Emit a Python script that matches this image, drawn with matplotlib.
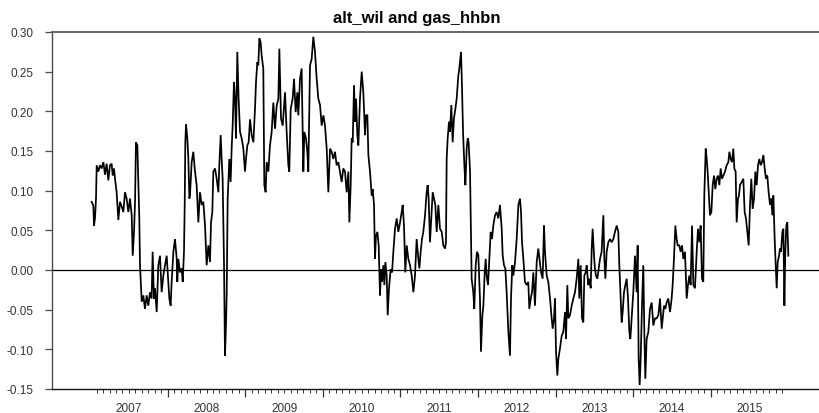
import matplotlib
matplotlib.use("Agg")
import matplotlib.pyplot as plt
import numpy as np
from matplotlib.ticker import FixedLocator, FormatStrFormatter, NullFormatter

plt.rcParams['font.family'] = ['Liberation Sans', 'DejaVu Sans']
plt.rcParams['axes.unicode_minus'] = False

title = "alt_wil and gas_hhbn"
years = [2007, 2008, 2009, 2010, 2011, 2012, 2013, 2014, 2015]
y_ticks = [-0.15, -0.10, -0.05, 0.00, 0.05, 0.10, 0.15, 0.20, 0.25, 0.30]

# observation time in decimal years
obs_time = [
    2007.020, 2007.042, 2007.050, 2007.063, 2007.076, 2007.085, 2007.106, 2007.128, 2007.149, 2007.171,
    2007.192, 2007.213, 2007.235, 2007.256, 2007.278, 2007.291, 2007.308, 2007.321, 2007.342, 2007.364,
    2007.385, 2007.407, 2007.428, 2007.450, 2007.471, 2007.493, 2007.514, 2007.536, 2007.549, 2007.566,
    2007.579, 2007.591, 2007.609, 2007.622, 2007.634, 2007.643, 2007.665, 2007.686, 2007.707, 2007.729,
    2007.750, 2007.772, 2007.793, 2007.806, 2007.823, 2007.836, 2007.858, 2007.879, 2007.901, 2007.922,
    2007.944, 2007.965, 2007.987, 2008.000, 2008.021, 2008.038, 2008.051, 2008.073, 2008.094, 2008.116,
    2008.124, 2008.137, 2008.159, 2008.180, 2008.193, 2008.210, 2008.219, 2008.227, 2008.236, 2008.253,
    2008.266, 2008.279, 2008.287, 2008.309, 2008.330, 2008.352, 2008.373, 2008.395, 2008.416, 2008.438,
    2008.459, 2008.481, 2008.502, 2008.524, 2008.545, 2008.558, 2008.575, 2008.588, 2008.610, 2008.631,
    2008.653, 2008.665, 2008.683, 2008.695, 2008.708, 2008.726, 2008.738, 2008.751, 2008.760, 2008.773,
    2008.794, 2008.811, 2008.824, 2008.837, 2008.854, 2008.867, 2008.880, 2008.897, 2008.914, 2008.932,
    2008.953, 2008.975, 2008.996, 2009.009, 2009.026, 2009.043, 2009.061, 2009.082, 2009.104, 2009.125,
    2009.138, 2009.155, 2009.168, 2009.181, 2009.198, 2009.211, 2009.232, 2009.245, 2009.262, 2009.275,
    2009.297, 2009.318, 2009.340, 2009.361, 2009.383, 2009.404, 2009.426, 2009.439,
    2009.460, 2009.482, 2009.512, 2009.533, 2009.555, 2009.567, 2009.585, 2009.610, 2009.628, 2009.649,
    2009.671, 2009.683,
    2009.705, 2009.726, 2009.748, 2009.761, 2009.782, 2009.799, 2009.812, 2009.834, 2009.855, 2009.877,
    2009.898, 2009.920, 2009.941, 2009.963, 2009.984, 2010.006, 2010.027, 2010.049, 2010.070, 2010.092,
    2010.113, 2010.134, 2010.156, 2010.177, 2010.199, 2010.220, 2010.242, 2010.263, 2010.285, 2010.306,
    2010.328, 2010.341, 2010.358, 2010.371, 2010.384, 2010.401, 2010.414, 2010.427, 2010.444, 2010.457,
    2010.478, 2010.500, 2010.521, 2010.543, 2010.555, 2010.573, 2010.586, 2010.607, 2010.629, 2010.641,
    2010.659, 2010.671, 2010.684, 2010.702, 2010.719, 2010.736, 2010.749, 2010.762, 2010.779, 2010.792,
    2010.805, 2010.822, 2010.835, 2010.852, 2010.873, 2010.891, 2010.908, 2010.929, 2010.951, 2010.972,
    2010.994, 2011.015, 2011.028, 2011.045, 2011.062, 2011.080, 2011.101, 2011.123, 2011.144, 2011.166,
    2011.187, 2011.208, 2011.230, 2011.243, 2011.260, 2011.277, 2011.294, 2011.316, 2011.337, 2011.350,
    2011.363, 2011.380, 2011.397, 2011.415, 2011.432, 2011.449, 2011.466, 2011.488, 2011.509, 2011.531,
    2011.552, 2011.574, 2011.586, 2011.595, 2011.608, 2011.625, 2011.638, 2011.655, 2011.672, 2011.689,
    2011.707, 2011.724, 2011.745, 2011.758, 2011.780, 2011.793, 2011.806, 2011.823, 2011.836, 2011.853,
    2011.866, 2011.878, 2011.896, 2011.904, 2011.917, 2011.938, 2011.951, 2011.969, 2011.986, 2012.003,
    2012.024, 2012.037, 2012.055, 2012.068, 2012.085, 2012.098, 2012.110, 2012.128, 2012.145, 2012.162,
    2012.179, 2012.196, 2012.218, 2012.239, 2012.261, 2012.282, 2012.304, 2012.317, 2012.334, 2012.351,
    2012.368, 2012.390, 2012.411, 2012.424, 2012.441, 2012.454, 2012.476, 2012.497, 2012.519, 2012.540,
    2012.553, 2012.566, 2012.583, 2012.604, 2012.626, 2012.647, 2012.660, 2012.678, 2012.695, 2012.712,
    2012.733, 2012.755, 2012.776,
    2012.811, 2012.832, 2012.849, 2012.862, 2012.884, 2012.905, 2012.927, 2012.948, 2012.961, 2012.978,
    2012.991, 2013.004, 2013.021, 2013.034, 2013.055, 2013.077, 2013.098, 2013.120, 2013.133, 2013.150,
    2013.163, 2013.184, 2013.206, 2013.227, 2013.249, 2013.270, 2013.292, 2013.304, 2013.322, 2013.339,
    2013.356, 2013.369, 2013.386, 2013.399, 2013.420, 2013.433, 2013.451, 2013.464, 2013.476, 2013.494,
    2013.505, 2013.519, 2013.537, 2013.554, 2013.571, 2013.592, 2013.614, 2013.627, 2013.640, 2013.657,
    2013.678, 2013.700, 2013.721, 2013.743, 2013.764, 2013.786, 2013.807, 2013.820, 2013.837, 2013.850,
    2013.863, 2013.880, 2013.897, 2013.915, 2013.932, 2013.949, 2013.962, 2013.979, 2014.000, 2014.022,
    2014.043, 2014.056, 2014.069, 2014.082, 2014.095, 2014.112, 2014.129, 2014.142, 2014.155, 2014.172,
    2014.194, 2014.215, 2014.237, 2014.258, 2014.280, 2014.301, 2014.323, 2014.344, 2014.366, 2014.379,
    2014.396, 2014.413, 2014.430, 2014.451, 2014.473, 2014.494, 2014.507, 2014.524, 2014.542, 2014.559,
    2014.572, 2014.593, 2014.610, 2014.628, 2014.645, 2014.666, 2014.688, 2014.705, 2014.722, 2014.739,
    2014.757, 2014.774, 2014.795, 2014.817, 2014.834, 2014.851, 2014.868, 2014.885, 2014.902, 2014.915,
    2014.933, 2014.946, 2014.958, 2014.976, 2014.988, 2015.006, 2015.023, 2015.040, 2015.057, 2015.074,
    2015.092, 2015.109, 2015.126, 2015.143, 2015.160, 2015.182, 2015.203, 2015.225, 2015.238, 2015.255,
    2015.272, 2015.289, 2015.302, 2015.319, 2015.332, 2015.349, 2015.362, 2015.375, 2015.397, 2015.418,
    2015.435, 2015.452, 2015.470, 2015.487, 2015.504, 2015.521, 2015.538, 2015.556, 2015.573, 2015.590,
    2015.607, 2015.624, 2015.641, 2015.659, 2015.676, 2015.693, 2015.710, 2015.727, 2015.744, 2015.762,
    2015.779, 2015.792, 2015.805, 2015.822, 2015.835, 2015.848, 2015.861, 2015.878, 2015.891, 2015.904,
    2015.921, 2015.934, 2015.947, 2015.959, 2015.972, 2015.985, 2015.998,
]

obs_value = [
    0.086, 0.081, 0.056, 0.065, 0.090, 0.132, 0.124, 0.132, 0.128, 0.136,
    0.120, 0.134, 0.113, 0.132, 0.134, 0.119, 0.128, 0.115, 0.098, 0.063,
    0.086, 0.080, 0.073, 0.098, 0.090, 0.073, 0.090, 0.069, 0.018, 0.048,
    0.086, 0.161, 0.157, 0.107, 0.065, 0.006, -0.040, -0.032, -0.049, -0.032,
    -0.045, -0.028, -0.036, 0.023, -0.036, -0.023, -0.053, 0.006, 0.018, -0.028,
    -0.007, 0.006, 0.018, -0.003, -0.036, -0.045, -0.015, 0.023, 0.039, 0.014,
    -0.015, 0.014, -0.003, 0.002, -0.015, 0.023, 0.082, 0.161, 0.184, 0.166,
    0.141, 0.090, 0.094, 0.136, 0.149, 0.124, 0.107, 0.060, 0.098, 0.082,
    0.086, 0.056, 0.006, 0.031, 0.010, 0.060, 0.073, 0.124, 0.128, 0.115,
    0.098, 0.132, 0.170, 0.141, 0.115, 0.006, -0.108, -0.070, -0.032, 0.090,
    0.140, 0.111, 0.153, 0.182, 0.237, 0.216, 0.166, 0.275, 0.216, 0.174,
    0.166, 0.153, 0.124, 0.140, 0.157, 0.161, 0.190, 0.170, 0.161, 0.203,
    0.237, 0.262, 0.258, 0.292, 0.287, 0.270, 0.254, 0.107, 0.098, 0.136,
    0.124, 0.157, 0.174, 0.211, 0.178, 0.207, 0.216, 0.279,
    0.191, 0.182, 0.224, 0.174, 0.132, 0.124, 0.203, 0.216, 0.241, 0.199,
    0.224, 0.195,
    0.241, 0.254, 0.124, 0.174, 0.166, 0.149, 0.124, 0.258, 0.266, 0.294,
    0.275, 0.241, 0.216, 0.208, 0.182, 0.195, 0.182, 0.153, 0.098, 0.153,
    0.149, 0.140, 0.149, 0.132, 0.136, 0.124, 0.111, 0.128, 0.124, 0.098,
    0.124, 0.060, 0.107, 0.166, 0.161, 0.233, 0.187, 0.216, 0.170, 0.157,
    0.216, 0.250, 0.224, 0.170, 0.195, 0.195, 0.145, 0.124, 0.094, 0.102,
    0.082, 0.014, 0.043, 0.048, 0.031, -0.032, 0.001, -0.015, 0.006, -0.019,
    0.010, -0.007, -0.057, -0.023, 0.001, -0.003, 0.023, 0.052, 0.065, 0.048,
    0.060, 0.073, 0.082, 0.056, -0.003, 0.031, 0.014, 0.006, -0.007, -0.028,
    -0.007, 0.039, 0.014, 0.002, 0.023, 0.039, 0.048, 0.069, 0.098, 0.107,
    0.090, 0.035, 0.065, 0.098, 0.090, 0.082, 0.048, 0.082, 0.052, 0.048,
    0.031, 0.027, 0.035, 0.140, 0.166, 0.187, 0.174, 0.208, 0.161, 0.191,
    0.203, 0.216, 0.245, 0.254, 0.275, 0.229, 0.174, 0.132, 0.107, 0.153,
    0.166, 0.161, 0.124, 0.069, -0.011, -0.028, -0.049, 0.006, 0.023, 0.019,
    -0.036, -0.103, -0.057, -0.045, -0.003, 0.014, -0.007, -0.019, 0.014, 0.048,
    0.039, 0.056, 0.069, 0.073, 0.065, 0.082, 0.052, 0.018, 0.006, 0.002,
    -0.028, -0.078, -0.108, -0.036, 0.006, -0.007, 0.010, 0.039, 0.082, 0.090,
    0.073, 0.035, 0.014, -0.015, -0.019, -0.015, -0.049, -0.036, -0.028, -0.003,
    -0.045, 0.010, 0.027,
    -0.003, -0.011, 0.056, 0.023, -0.007, -0.015, -0.036, -0.061, -0.074, -0.061,
    -0.036, -0.103, -0.133, -0.112, -0.099, -0.083, -0.078, -0.053, -0.087, -0.019,
    -0.061, -0.057, -0.045, -0.036, -0.028, -0.011, 0.014, -0.036, 0.006, -0.061,
    -0.066, -0.007, -0.003, 0.006, -0.019, -0.011, -0.023, 0.027, 0.052, 0.018,
    0.002, -0.007, -0.011, 0.002, 0.014, 0.023, 0.069, 0.014, -0.011, 0.023,
    0.035, 0.039, 0.035, 0.039, 0.048, 0.056, 0.048, 0.006, -0.036, -0.066,
    -0.053, -0.028, -0.019, -0.011, -0.036, -0.078, -0.087, -0.061, -0.028, 0.018,
    -0.028, 0.031, -0.112, -0.145, -0.112, -0.045, 0.006, -0.078, -0.137, -0.087,
    -0.078, -0.049, -0.041, -0.070, -0.061, -0.061, -0.057, -0.036, -0.074, -0.061,
    -0.045, -0.049, -0.041, -0.036, -0.053, -0.036, -0.019, 0.014, 0.056, 0.039,
    0.031, 0.031, 0.023, 0.031, 0.014, 0.023, -0.036, -0.019, -0.007, -0.019,
    0.056, -0.019, -0.023, 0.023, 0.052, 0.035, 0.056, -0.011, -0.015, 0.094,
    0.153, 0.140, 0.124, 0.090, 0.069, 0.073, 0.107, 0.119, 0.102, 0.115,
    0.119, 0.107, 0.128, 0.115, 0.119, 0.124, 0.132, 0.136, 0.149, 0.140,
    0.136, 0.153, 0.128, 0.124, 0.060, 0.090, 0.094, 0.107, 0.111, 0.115,
    0.073, 0.065, 0.048, 0.031, 0.082, 0.115, 0.077, 0.090, 0.124, 0.107,
    0.132, 0.140, 0.132, 0.136, 0.145, 0.128, 0.115, 0.119, 0.098, 0.082,
    0.090, 0.069, 0.094, 0.039, 0.006, -0.023, 0.010, 0.018, 0.027, 0.023,
    0.048, 0.052, -0.045, 0.023, 0.056, 0.060, 0.018,
]

assert len(obs_time) == len(obs_value)

W, H = 820, 414
fig = plt.figure(figsize=(W / 100, H / 100), dpi=100)
ax = fig.add_axes([52 / W, 24 / H, 768 / W, 357 / H])

ax.plot(obs_time, obs_value, color='black', lw=1.25, solid_joinstyle='miter')
ax.axhline(0.0, color='black', lw=0.9)

ax.set_xlim(years[0] - 0.491, years[-1] + 1.406)
ax.set_ylim(y_ticks[0], y_ticks[-1])

# frame: open on the right
ax.spines['right'].set_visible(False)
ax.spines['top'].set_color('#5a5a5a')
ax.spines['top'].set_linewidth(1.3)
ax.spines['left'].set_color('#4a4a4a')
ax.spines['left'].set_linewidth(1.0)
ax.spines['bottom'].set_color('#111111')
ax.spines['bottom'].set_linewidth(1.0)

# y axis
ax.yaxis.set_major_locator(FixedLocator(y_ticks))
ax.yaxis.set_major_formatter(FormatStrFormatter('%.2f'))
ax.tick_params(axis='y', which='major', direction='out', length=5, width=0.9,
               color='#4a4a4a', pad=8, labelsize=8.5, labelcolor='#333333')

# x axis: year boundaries as long ticks, months as short ticks
year_edges = [y for y in years[1:]]
month_ticks = [y + m / 12 for y in years for m in range(1, 12)]
ax.xaxis.set_major_locator(FixedLocator(year_edges))
ax.xaxis.set_minor_locator(FixedLocator(month_ticks))
ax.xaxis.set_major_formatter(NullFormatter())
ax.xaxis.set_minor_formatter(NullFormatter())
ax.tick_params(axis='x', which='major', direction='out', length=5.5, width=0.9, color='#333333')
ax.tick_params(axis='x', which='minor', direction='out', length=2.6, width=0.7, color='#333333')

for yr in years:
    ax.annotate(str(yr), xy=(yr + 0.5, 0), xycoords=('data', 'axes fraction'),
                xytext=(0, -15.8), textcoords='offset points',
                ha='center', va='baseline', fontsize=8.5, color='#333333')

fig.text(417 / W, 1 - 23 / H, title, ha='center', va='baseline',
         fontsize=12, fontweight='bold', color='black')

fig.savefig('out.png', dpi=100)
